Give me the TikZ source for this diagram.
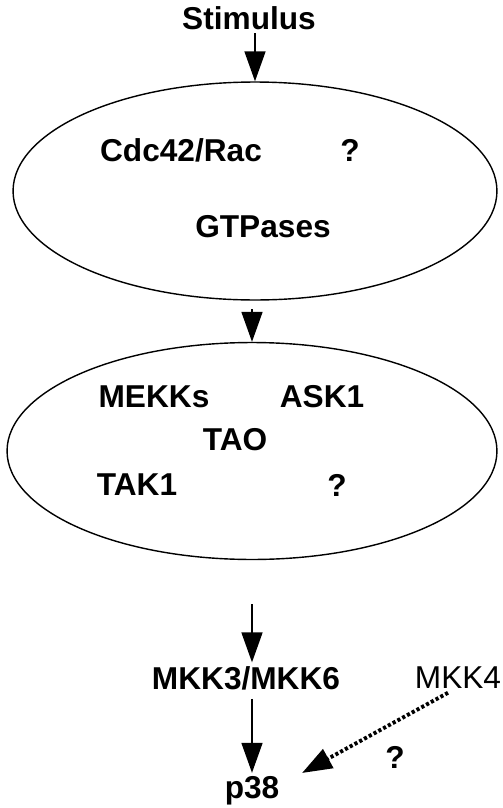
\documentclass[tikz,border=0pt]{standalone}
\usepackage{fontspec}
\setmainfont{Liberation Sans}
\usetikzlibrary{arrows.meta,shapes.geometric}

\tikzset{
  lbl/.style={font=\fontsize{18}{21}\selectfont\bfseries, inner sep=2pt},
  pool/.style={draw, ellipse, line width=0.8pt, inner sep=0pt},
  act/.style={-{Triangle[length=0.6cm, width=0.42cm]}, line width=0.9pt},
}

\begin{document}
\begin{tikzpicture}[x=0.02cm, y=-0.02cm]

  \useasboundingbox (0,0) rectangle (503,808);

  \node[lbl] (stim) at (249,18) {Stimulus};

  % upstream GTPases
  \node[pool, minimum width=9.68cm, minimum height=4.36cm] (gtp) at (255,191) {};
  \node[lbl] (cdc) at (181,150) {Cdc42/Rac};
  \node[lbl] (q1) at (350,150) {?};
  \node[lbl] (gtpases) at (263,227) {GTPases};

  % MAPKKKs
  \node[pool, minimum width=9.8cm, minimum height=4.34cm] (kkk) at (252,451) {};
  \node[lbl] (mekk) at (154,397) {MEKKs};
  \node[lbl] (ask) at (322,397) {ASK1};
  \node[lbl] (tao) at (235,440) {TAO};
  \node[lbl] (tak) at (137,485) {TAK1};
  \node[lbl] (q2) at (337,485) {?};

  \node[lbl] (mkk36) at (246,678) {MKK3/MKK6};
  \node[lbl, font=\fontsize{18}{21}\selectfont] (mkk4) at (458,678) {MKK4};
  \node[lbl] (p38) at (252,791) {p38};
  \node[lbl] (q3) at (395,757) {?};

  \coordinate (p38in) at (302,773);

  \draw[act] (gtp.north |- stim.south) -- (gtp.north);
  \draw[act, shorten <=5] (kkk.north |- gtp.south) -- (kkk.north);
  \draw[act, shorten <=25] (kkk.south) -- (kkk.south |- mkk36.north);
  \draw[act, shorten <=3] (p38.north |- mkk36.south) -- (p38.north);
  \draw[act, line width=2.2pt, dash pattern=on 1.8pt off 1.3pt] ([xshift=-0.2cm]mkk4.south) -- (p38in);

\end{tikzpicture}
\end{document}
